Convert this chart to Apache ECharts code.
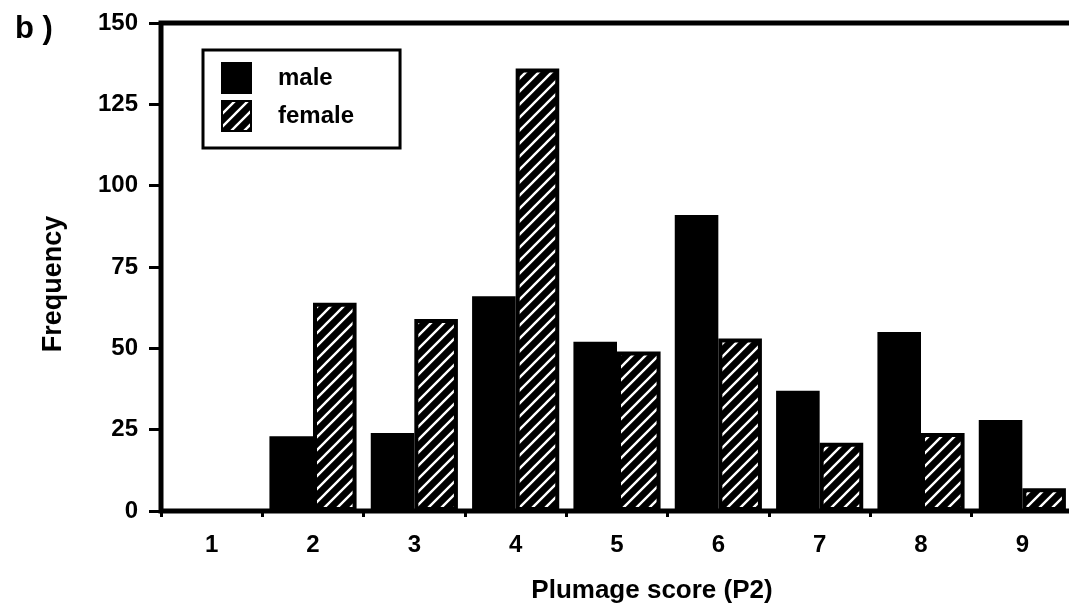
<!DOCTYPE html>
<html>
<head>
<meta charset="utf-8">
<script src="https://cdn.jsdelivr.net/npm/echarts@6/dist/echarts.min.js"></script>
<style>
  html, body { margin: 0; padding: 0; background: #fff; }
  #chart { width: 1069px; height: 613px; }
</style>
</head>
<body>
<div id="chart"></div>
<script>
// Plumage score (P2) frequency by sex
const categories = ['1', '2', '3', '4', '5', '6', '7', '8', '9'];
const maleCounts = [0, 23, 24, 66, 52, 91, 37, 55, 28];
const femaleCounts = [0, 64, 59, 136, 49, 53, 21, 24, 7];
const yTicks = [0, 25, 50, 75, 100, 125, 150];

const FONT = '"Liberation Sans", Arial, Helvetica, sans-serif';

// Black tile with white "/" diagonal stripes for the female bars
function hatchTile() {
  const s = 13;
  const c = document.createElement('canvas');
  c.width = s; c.height = s;
  const g = c.getContext('2d');
  g.fillStyle = '#000';
  g.fillRect(0, 0, s, s);
  g.strokeStyle = '#fff';
  g.lineWidth = 2.4;
  g.beginPath();
  g.moveTo(-2, s + 2); g.lineTo(s + 2, -2);
  g.moveTo(-2, 2); g.lineTo(2, -2);
  g.moveTo(s - 2, s + 2); g.lineTo(s + 2, s - 2);
  g.stroke();
  return c;
}

const chart = echarts.init(document.getElementById('chart'), null, { renderer: 'canvas' });

chart.setOption({
  animation: false,
  backgroundColor: '#fff',
  textStyle: { fontFamily: FONT },
  grid: {
    left: 161, top: 23, bottom: 102, right: -4,
    outerBoundsMode: 'none',
    containLabel: false,
    show: true, borderColor: '#000', borderWidth: 5,
    backgroundColor: 'transparent'
  },
  legend: {
    left: 203, top: 50,
    orient: 'vertical',
    icon: 'rect',
    itemWidth: 29, itemHeight: 30, itemGap: 6,
    padding: [12, 46, 16, 18],
    borderColor: '#000', borderWidth: 3, borderRadius: 0,
    backgroundColor: '#fff',
    textStyle: { fontFamily: FONT, fontWeight: 'bold', fontSize: 24, color: '#000', padding: [0, 0, 0, 22] },
    data: ['male', 'female']
  },
  xAxis: {
    type: 'category',
    data: categories,
    name: 'Plumage score (P2)',
    nameLocation: 'middle',
    nameGap: 67,
    nameTextStyle: { fontFamily: FONT, fontWeight: 'bold', fontSize: 26, color: '#000', padding: [0, 0, 0, 70] },
    axisLine: { lineStyle: { color: '#000', width: 4 } },
    axisTick: { show: true, length: 6, lineStyle: { color: '#000', width: 3 } },
    axisLabel: { fontFamily: FONT, fontWeight: 'bold', fontSize: 24, color: '#000', margin: 22 },
    splitLine: { show: false }
  },
  yAxis: {
    type: 'value',
    min: yTicks[0], max: yTicks[yTicks.length - 1], interval: 25,
    name: 'Frequency',
    nameLocation: 'middle',
    nameGap: 94,
    nameTextStyle: { fontFamily: FONT, fontWeight: 'bold', fontSize: 27, color: '#000', padding: [0, 34, 0, 0] },
    axisLine: { show: true, lineStyle: { color: '#000', width: 4 } },
    axisTick: { show: true, length: 12, lineStyle: { color: '#000', width: 3 } },
    axisLabel: { fontFamily: FONT, fontWeight: 'bold', fontSize: 24, color: '#000', margin: 23 },
    splitLine: { show: false }
  },
  series: [
    {
      name: 'male',
      type: 'bar',
      data: maleCounts,
      barGap: '0%',
      barCategoryGap: '14%',
      itemStyle: { color: '#000', borderColor: '#000', borderWidth: 2 }
    },
    {
      name: 'female',
      type: 'bar',
      data: femaleCounts,
      barGap: '0%',
      barCategoryGap: '14%',
      itemStyle: {
        color: { image: hatchTile(), repeat: 'repeat' },
        borderColor: '#000', borderWidth: 4
      }
    }
  ],
  graphic: [
    {
      type: 'text',
      left: 15, top: 14,
      style: { text: 'b )', fontFamily: FONT, fontWeight: 'bold', fontSize: 31, fill: '#000' }
    }
  ]
});
</script>
</body>
</html>
